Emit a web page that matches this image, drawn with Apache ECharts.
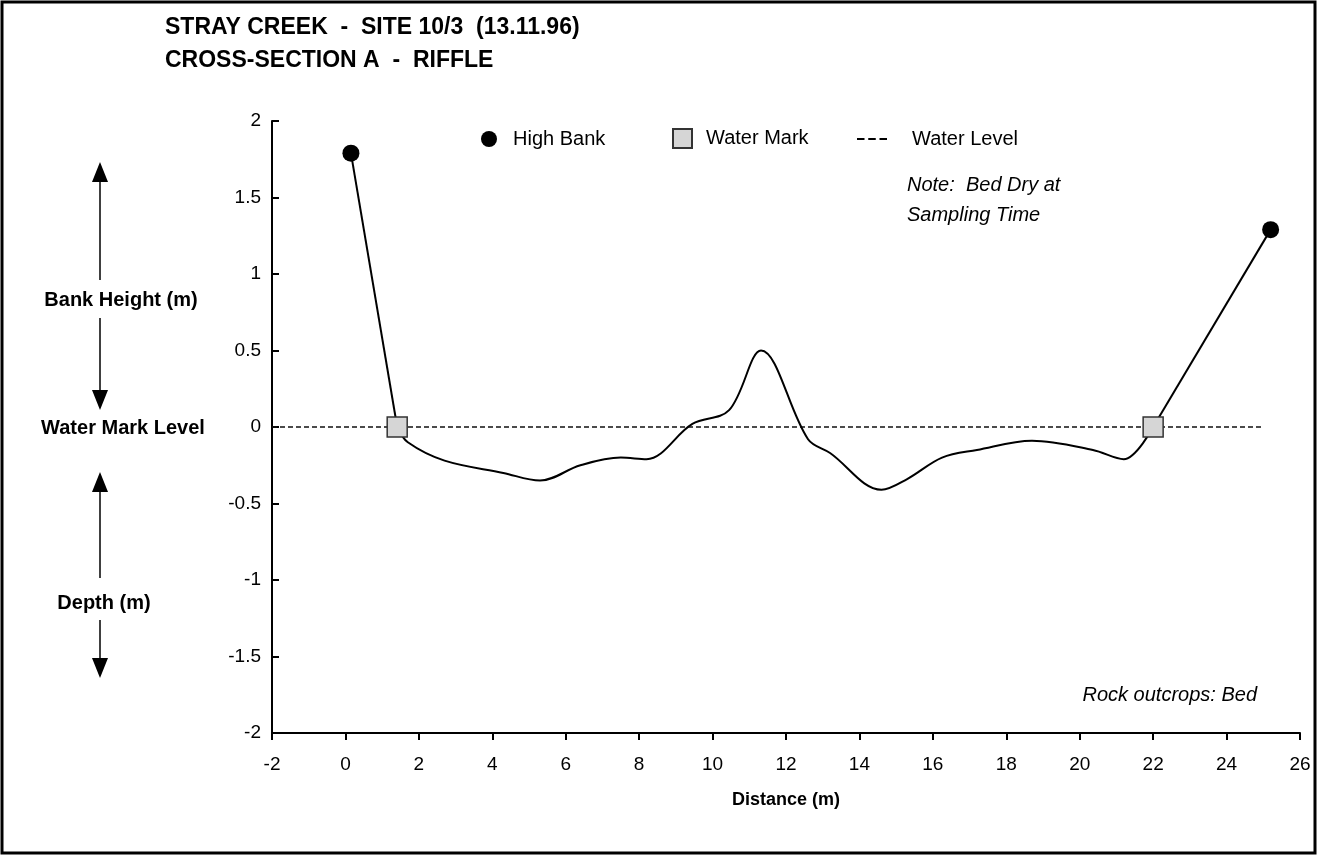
<!DOCTYPE html>
<html>
<head>
<meta charset="utf-8">
<script src="https://cdn.jsdelivr.net/npm/echarts@6/dist/echarts.min.js"></script>
<style>
  html, body { margin: 0; padding: 0; background: #fff; }
  #chart { width: 1318px; height: 856px; }
</style>
</head>
<body>
<div id="chart"></div>
<script>
// cross-section profile, distance (m) vs height relative to water mark (m)
const bedX = [0.15, 1.41, 1.7, 2.7, 4.3, 5.3, 6.4, 7.5, 8.2, 9.45, 10.45, 11.32, 12.6, 13.2, 14.6, 15.3, 16.25, 17.2, 18.7, 20.36, 21.2, 22.0, 25.2];
const bedY = [1.79, 0, -0.10, -0.22, -0.30, -0.35, -0.25, -0.20, -0.21, 0.02, 0.11, 0.50, -0.08, -0.17, -0.41, -0.34, -0.20, -0.15, -0.09, -0.15, -0.21, 0, 1.29];

const highBankX = [0.15, 25.2];
const highBankY = [1.79, 1.29];

const waterMarkX = [1.41, 22.0];
const waterMarkY = [0, 0];

const waterLevelX = [-2, 25];
const waterLevelY = [0, 0];

const xTicks = { min: -2, max: 26, interval: 2 };
const yTicks = { min: -2, max: 2, interval: 0.5 };

const FONT = 'Liberation Sans';

function pairs(xs, ys) {
  const out = [];
  for (let i = 0; i < xs.length; i++) {
    out.push([xs[i], ys[i]]);
  }
  return out;
}

// banks are straight runs, the bed between the water marks is smoothed
const bedPoints = pairs(bedX, bedY);
const n = bedPoints.length;
const leftBank = bedPoints.slice(0, 2);
const bedOnly = bedPoints.slice(1, n - 1);
const rightBank = bedPoints.slice(n - 2);

function arrow(x, y1, y2) {
  const dir = y2 > y1 ? 1 : -1;
  const base = y2 - dir * 20;
  return [
    {
      type: 'line',
      shape: { x1: x, y1: y1, x2: x, y2: base },
      style: { stroke: '#000', lineWidth: 1.5 }
    },
    {
      type: 'polygon',
      shape: { points: [[x - 8, base], [x + 8, base], [x, y2]] },
      style: { fill: '#000' }
    }
  ];
}

function sideLabel(text, x, y) {
  return {
    type: 'text',
    x: x,
    y: y,
    style: {
      text: text,
      font: 'bold 20px "Liberation Sans"',
      fill: '#000',
      align: 'center',
      verticalAlign: 'middle'
    }
  };
}

const chart = echarts.init(document.getElementById('chart'));

const option = {
  backgroundColor: '#fff',
  animation: false,
  textStyle: { fontFamily: FONT },
  title: {
    text: 'STRAY CREEK  -  SITE 10/3  (13.11.96)\nCROSS-SECTION A  -  RIFFLE',
    left: 160,
    top: 6,
    textStyle: {
      fontFamily: FONT,
      fontSize: 23,
      fontWeight: 'bold',
      color: '#000',
      lineHeight: 33
    }
  },
  legend: [
    {
      data: [{ name: 'High Bank', icon: 'circle' }],
      left: 476,
      top: 124,
      itemWidth: 28,
      itemHeight: 16,
      textStyle: { fontFamily: FONT, fontSize: 20, color: '#000', padding: [0, 0, 0, 5] }
    },
    {
      data: [{ name: 'Water Mark', icon: 'rect' }],
      left: 667,
      top: 123,
      itemWidth: 19,
      itemHeight: 19,
      textStyle: { fontFamily: FONT, fontSize: 20, color: '#000', padding: [0, 0, 0, 9] }
    },
    {
      data: [{ name: 'Water Level', icon: 'path://M0,0H8V2H0Z M12,0H20V2H12Z M24,0H32V2H24Z' }],
      left: 852,
      top: 124,
      itemWidth: 30,
      itemHeight: 2,
      textStyle: { fontFamily: FONT, fontSize: 20, color: '#000', padding: [0, 0, 0, 20] }
    }
  ],
  grid: {
    left: 272,
    right: 18,
    top: 121,
    bottom: 123
  },
  xAxis: {
    type: 'value',
    min: xTicks.min,
    max: xTicks.max,
    interval: xTicks.interval,
    name: 'Distance (m)',
    nameLocation: 'middle',
    nameGap: 58,
    nameTextStyle: { fontFamily: FONT, fontSize: 18, fontWeight: 'bold', color: '#000' },
    axisLine: { onZero: false, lineStyle: { color: '#000', width: 2 } },
    axisTick: { inside: false, length: 7, lineStyle: { color: '#000', width: 2 } },
    axisLabel: { fontFamily: FONT, fontSize: 19, color: '#000', margin: 22 },
    splitLine: { show: false }
  },
  yAxis: {
    type: 'value',
    min: yTicks.min,
    max: yTicks.max,
    interval: yTicks.interval,
    axisLine: { show: true, onZero: false, lineStyle: { color: '#000', width: 2 } },
    axisTick: { show: true, inside: true, length: 7, lineStyle: { color: '#000', width: 2 } },
    axisLabel: { fontFamily: FONT, fontSize: 19, color: '#000', margin: 11 },
    splitLine: { show: false }
  },
  series: [
    {
      name: 'Water Level',
      type: 'line',
      data: pairs(waterLevelX, waterLevelY),
      symbol: 'none',
      itemStyle: { color: '#000' },
      lineStyle: { color: '#111', width: 1.4, type: [5, 3] },
      z: 1
    },
    {
      name: 'Left Bank',
      type: 'line',
      data: leftBank,
      symbol: 'none',
      lineStyle: { color: '#000', width: 2 },
      z: 2
    },
    {
      name: 'Bed',
      type: 'line',
      data: bedOnly,
      symbol: 'none',
      smooth: 0.35,
      lineStyle: { color: '#000', width: 2 },
      z: 2
    },
    {
      name: 'Right Bank',
      type: 'line',
      data: rightBank,
      symbol: 'none',
      lineStyle: { color: '#000', width: 2 },
      z: 2
    },
    {
      name: 'High Bank',
      type: 'scatter',
      data: pairs(highBankX, highBankY),
      symbol: 'circle',
      symbolSize: 17,
      itemStyle: { color: '#000', opacity: 1 },
      z: 3
    },
    {
      name: 'Water Mark',
      type: 'scatter',
      data: pairs(waterMarkX, waterMarkY),
      symbol: 'rect',
      symbolSize: 20,
      itemStyle: { color: '#d6d6d6', borderColor: '#333', borderWidth: 1.5, opacity: 1 },
      z: 4
    }
  ],
  graphic: [
    {
      type: 'rect',
      shape: { x: 2, y: 2, width: 1313, height: 851 },
      style: { fill: 'none', stroke: '#000', lineWidth: 3 },
      silent: true
    },
    {
      type: 'text',
      left: 907,
      top: 170,
      style: {
        text: 'Note:  Bed Dry at\nSampling Time',
        font: 'italic 20px "Liberation Sans"',
        fill: '#000',
        lineHeight: 30
      }
    },
    {
      type: 'text',
      right: 61,
      top: 685,
      style: {
        text: 'Rock outcrops: Bed',
        font: 'italic 20px "Liberation Sans"',
        fill: '#000'
      }
    },
    sideLabel('Bank Height (m)', 121, 300),
    sideLabel('Water Mark Level', 123, 428),
    sideLabel('Depth (m)', 104, 603)
  ]
    .concat(arrow(100, 280, 162))
    .concat(arrow(100, 318, 410))
    .concat(arrow(100, 578, 472))
    .concat(arrow(100, 620, 678))
};

chart.setOption(option);
</script>
</body>
</html>
